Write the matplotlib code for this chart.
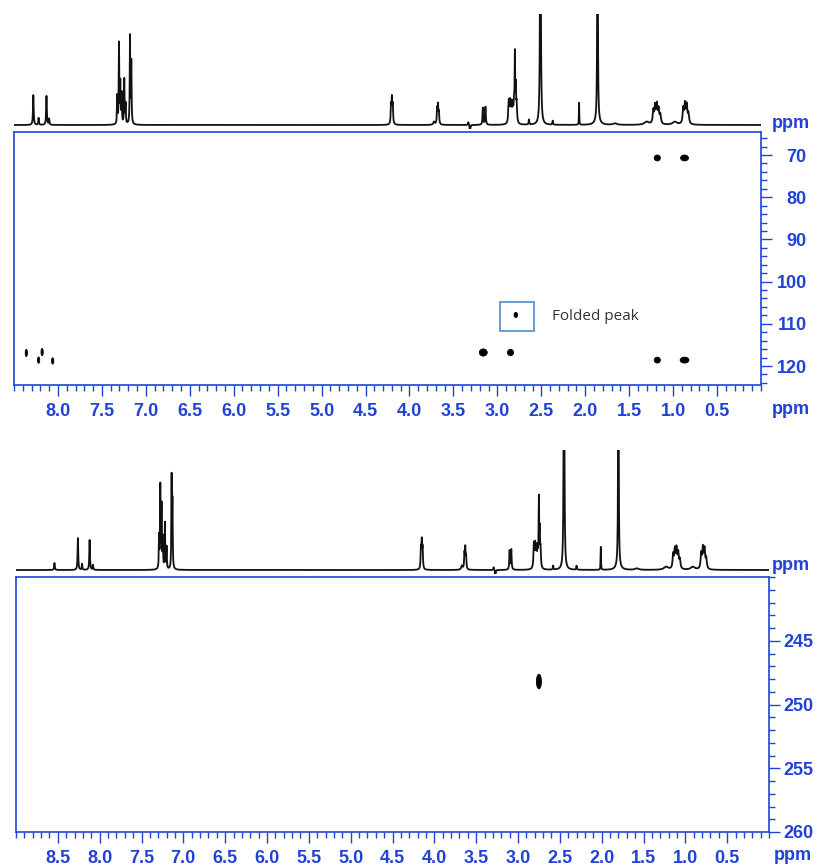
import numpy as np
import matplotlib
matplotlib.use("Agg")
import matplotlib.pyplot as plt
from matplotlib.patches import Ellipse, Rectangle
from matplotlib.ticker import MultipleLocator

# ---- 1H projection, top experiment (shift ppm, height, FWHM ppm) ----
TOP_1H_SHIFT = [8.28, 8.22, 8.13, 8.10,
                7.325, 7.305, 7.29, 7.275, 7.245, 7.23, 7.18, 7.165,
                4.21, 4.20, 4.19,
                3.72, 3.685, 3.675, 3.665, 3.33, 3.31,
                3.165, 3.135,
                2.87, 2.855, 2.84, 2.825, 2.81, 2.80, 2.79, 2.78,
                2.64, 2.51, 2.37, 2.07, 1.86, 1.86, 1.66, 1.30,
                1.225, 1.205, 1.185, 1.165, 1.145, 0.98,
                0.885, 0.865, 0.845, 0.825]
TOP_1H_HEIGHT = [30, 7, 29, 6,
                 28, 80, 40, 30, 45, 20, 88, 62,
                 18, 24, 18,
                 3, 15, 18, 11, 3, -6,
                 17, 18,
                 22, 20, 18, 17, 19, 64, 32, 18,
                 5, 400, 4, 22, 400, 5, 1.5, 3,
                 13, 17, 18, 14, 9, 3,
                 15, 19, 18, 10]
TOP_1H_WIDTH = [0.009, 0.008, 0.009, 0.008,
                0.007, 0.007, 0.007, 0.007, 0.007, 0.007, 0.007, 0.007,
                0.009, 0.009, 0.009,
                0.02, 0.009, 0.009, 0.009, 0.009, 0.009,
                0.009, 0.009,
                0.012, 0.012, 0.012, 0.012, 0.012, 0.007, 0.008, 0.01,
                0.008, 0.008, 0.008, 0.005, 0.006, 0.05, 0.05, 0.06,
                0.016, 0.016, 0.016, 0.016, 0.016, 0.06,
                0.016, 0.016, 0.016, 0.016]

# ---- 1H projection, bottom experiment ----
BOT_1H_SHIFT = [8.54, 8.26, 8.21, 8.12, 8.08,
                7.29, 7.275, 7.26, 7.245, 7.22, 7.20, 7.14, 7.13,
                4.16, 4.15, 4.14,
                3.67, 3.64, 3.63, 3.62, 3.29, 3.27,
                3.10, 3.08,
                2.81, 2.795, 2.78, 2.765, 2.75, 2.74, 2.73,
                2.58, 2.45, 2.30, 2.01, 1.80, 1.80, 1.58, 1.23,
                1.145, 1.125, 1.105, 1.085, 1.065, 0.91,
                0.81, 0.79, 0.77, 0.75]
BOT_1H_HEIGHT = [7, 32, 6, 30, 5,
                 32, 82, 62, 30, 46, 22, 90, 64,
                 20, 26, 20,
                 4, 15, 20, 12, 3, -6,
                 19, 20,
                 24, 22, 19, 18, 66, 34, 18,
                 4, 400, 4, 23, 400, 5, 1.5, 3,
                 14, 18, 19, 15, 9, 3,
                 15, 20, 19, 10]
BOT_1H_WIDTH = [0.009, 0.009, 0.008, 0.009, 0.008,
                0.007, 0.007, 0.007, 0.007, 0.007, 0.007, 0.007, 0.007,
                0.009, 0.009, 0.009,
                0.02, 0.009, 0.009, 0.009, 0.009, 0.009,
                0.009, 0.009,
                0.012, 0.012, 0.012, 0.012, 0.007, 0.008, 0.01,
                0.008, 0.008, 0.008, 0.005, 0.006, 0.05, 0.05, 0.06,
                0.016, 0.016, 0.016, 0.016, 0.016, 0.06,
                0.016, 0.016, 0.016, 0.016]

# ---- 2D cross peaks (1H ppm, X ppm) and their extents ----
TOP_2D_H = [1.18, 0.87, 3.16, 2.85, 1.18, 0.87, 8.36, 8.18, 8.22, 8.06, 2.79]
TOP_2D_X = [70.7, 70.7, 116.8, 116.8, 118.6, 118.6, 116.9, 116.7, 118.6, 118.8, 107.9]
TOP_2D_DH = [0.07, 0.09, 0.09, 0.07, 0.07, 0.1, 0.025, 0.025, 0.025, 0.025, 0.04]
TOP_2D_DX = [1.4, 1.4, 1.7, 1.5, 1.4, 1.4, 1.7, 1.7, 1.5, 1.5, 1.2]

BOT_2D_H = [2.75]
BOT_2D_X = [248.2]
BOT_2D_DH = [0.06]
BOT_2D_DX = [1.15]

FOLDED_BOX = (2.97, 2.58, 104.8, 111.7)

TOP_X_TICKS = [8.0, 7.5, 7.0, 6.5, 6.0, 5.5, 5.0, 4.5, 4.0, 3.5, 3.0, 2.5, 2.0, 1.5, 1.0, 0.5]
BOT_X_TICKS = [8.5] + TOP_X_TICKS
TOP_Y_TICKS = [70, 80, 90, 100, 110, 120]
BOT_Y_TICKS = [245, 250, 255, 260]

BLUE = "#2142d8"
FONT = ["Liberation Sans Narrow", "Liberation Sans", "DejaVu Sans"]

W, H = 819, 867


def box(x0, y0, x1, y1):
    """pixel box (top-left origin) -> figure fraction rect"""
    return [x0 / W, 1 - y1 / H, (x1 - x0) / W, (y1 - y0) / H]


def spectrum(ppm, shifts, heights, widths):
    y = np.zeros_like(ppm)
    for s, h, w in zip(shifts, heights, widths):
        y += h / (1 + ((ppm - s) / (w / 2)) ** 2)
    return y


def draw_1d(fig, rect, xlim, shifts, heights, widths, ytop):
    ax = fig.add_axes(rect)
    ppm = np.linspace(xlim[1], xlim[0], 12000)
    ax.plot(ppm, spectrum(ppm, shifts, heights, widths), color="#111111", lw=1.3)
    ax.set_xlim(*xlim)
    ax.set_ylim(-4, ytop)
    ax.axis("off")
    return ax


def draw_2d(fig, rect, xlim, ylim, xticks, yticks, xminor, yminor, pad_r):
    ax = fig.add_axes(rect)
    ax.set_xlim(*xlim)
    ax.set_ylim(*ylim)
    for sp in ax.spines.values():
        sp.set_color(BLUE)
        sp.set_linewidth(1.2)
    ax.yaxis.tick_right()
    ax.set_xticks(xticks)
    ax.set_xticklabels([f"{t:.1f}" for t in xticks])
    ax.set_yticks(yticks)
    ax.set_yticklabels([str(t) for t in yticks])
    ax.xaxis.set_minor_locator(MultipleLocator(xminor))
    ax.yaxis.set_minor_locator(MultipleLocator(yminor))
    ax.tick_params(which="both", direction="out", color=BLUE, width=1.0,
                   labelcolor=BLUE, labelsize=13)
    ax.tick_params(which="major", length=8)
    ax.tick_params(which="minor", length=4)
    ax.tick_params(axis="x", pad=5)
    ax.tick_params(axis="y", pad=pad_r)
    for lab in ax.get_xticklabels() + ax.get_yticklabels():
        lab.set_fontfamily(FONT)
        lab.set_fontweight("bold")
    for lab in ax.get_yticklabels():
        lab.set_horizontalalignment("right")
    return ax


def peaks(ax, hs, xs, dhs, dxs):
    for h, x, dh, dx in zip(hs, xs, dhs, dxs):
        ax.add_patch(Ellipse((h, x), dh, dx, facecolor="black", edgecolor="black", lw=0.6))


def main():
    fig = plt.figure(figsize=(W / 100, H / 100), dpi=100, facecolor="white")

    # top experiment
    draw_1d(fig, box(14, 14, 761, 129), (8.5, 0.0),
            TOP_1H_SHIFT, TOP_1H_HEIGHT, TOP_1H_WIDTH, 111)
    ax1 = draw_2d(fig, box(14, 132, 761, 385), (8.5, 0.0), (124.5, 64.55),
                  TOP_X_TICKS, TOP_Y_TICKS, 0.1, 2, 25)
    peaks(ax1, TOP_2D_H, TOP_2D_X, TOP_2D_DH, TOP_2D_DX)
    x0, x1, y0, y1 = FOLDED_BOX
    ax1.add_patch(Rectangle((x1, y0), x0 - x1, y1 - y0, facecolor="none",
                            edgecolor="#6f9bd1", lw=1.4))
    ax1.text(2.38, (y0 + y1) / 2, "Folded peak", ha="left", va="center",
             fontsize=11, color="#333333", family=["Open Sans", "DejaVu Sans"])

    # bottom experiment
    draw_1d(fig, box(16, 450, 769, 574), (9.0, 0.0),
            BOT_1H_SHIFT, BOT_1H_HEIGHT, BOT_1H_WIDTH, 120)
    ax2 = draw_2d(fig, box(16, 577, 769, 832), (9.0, 0.0), (260, 240),
                  BOT_X_TICKS, BOT_Y_TICKS, 0.1, 1, 24)
    peaks(ax2, BOT_2D_H, BOT_2D_X, BOT_2D_DH, BOT_2D_DX)

    # ppm unit labels
    for px, py in [(791, 124), (791, 409), (791, 566), (793, 856)]:
        fig.text(px / W, 1 - py / H, "ppm", ha="center", va="center", color=BLUE,
                 fontsize=13, fontweight="bold", family=FONT)

    fig.savefig("out.png", dpi=100, facecolor="white")


if __name__ == "__main__":
    main()
